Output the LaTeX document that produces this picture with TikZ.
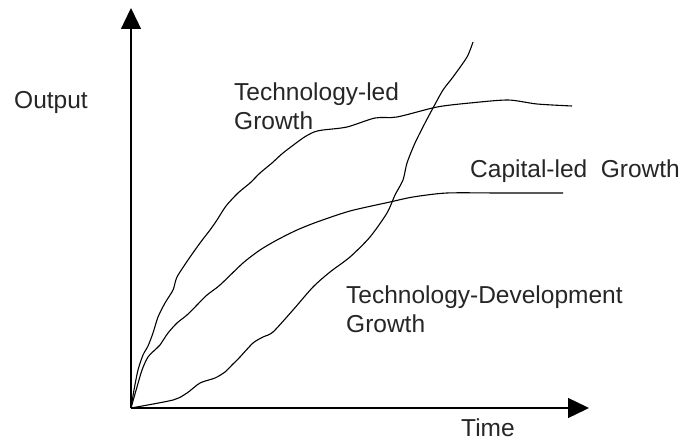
\documentclass[tikz,border=0pt]{standalone}
\usepackage{fontspec}
\setmainfont{Liberation Sans}
\usepackage{tikz}
\usetikzlibrary{arrows.meta}
\usetikzlibrary{positioning}
\tikzstyle{axis} = [draw, line width=1.3pt, -{Triangle[length=21pt,width=20pt]}]
\tikzstyle{growth} = [draw, line width=1.1pt, line join=round]
\tikzstyle{lbl} = [inner sep=0pt, text=black!85, align=left,
font=\fontsize{24.5}{29}\selectfont]

\begin{document}
\begin{tikzpicture}[x=1pt,y=-1pt]
	\useasboundingbox (0,0) rectangle (682,441);
	\coordinate (O) at (131,408);
	\coordinate (ytop) at (131,8);
	\coordinate (xend) at (589,408);
	%% Axes
	\path [axis] (O) -- (ytop);
	\path [axis] (O) -- (xend);
	\node [lbl, anchor=base west] (out) at (14,109) {Output};
	\node [lbl, anchor=base] (time) at (488,436) {Time};
	%% Curves
	\path [growth] plot [smooth, tension=0.45] coordinates {(131,408) (134,390) (138,370)
		(143,355) (148,346) (153,333) (158,317) (165,303) (173,290) (177,277) (188,260)
		(200,243) (210,230) (217,220) (226,206) (238,193) (250,183) (260,173) (272,163)
		(283,153) (303,138) (314,132) (323,130) (347,127) (375,118) (397,117) (437,107)
		(470,103) (508,100) (537,104) (572,106)};
	\path [growth] plot [smooth, tension=0.45] coordinates {(131,408) (137,387) (142,370)
		(148,357) (157,348) (160,345) (168,333) (177,323) (187,315) (197,305) (207,295)
		(220,285) (243,263) (260,250) (277,240) (297,230) (317,222) (350,211) (390,202)
		(413,197) (447,193) (500,193) (563,193)};
	\path [growth] plot [smooth, tension=0.45] coordinates {(131,408) (173,400) (187,393)
		(200,383) (215,378) (225,372) (232,365) (240,357) (253,343) (263,337) (273,332)
		(293,310) (313,287) (330,272) (350,257) (370,237) (387,213) (395,195) (403,180)
		(407,163) (415,143) (425,123) (433,108) (443,90) (453,77) (467,57) (473,42)};
	%% Labels
	\node [lbl, anchor=west] (techled) at (234,106) {Technology-led\\Growth};
	\node [lbl, anchor=base west] (capled) at (470,177) {Capital-led~~Growth};
	\node [lbl, anchor=west] (techdev) at (346,309) {Technology-Development\\Growth};
\end{tikzpicture}
\end{document}
